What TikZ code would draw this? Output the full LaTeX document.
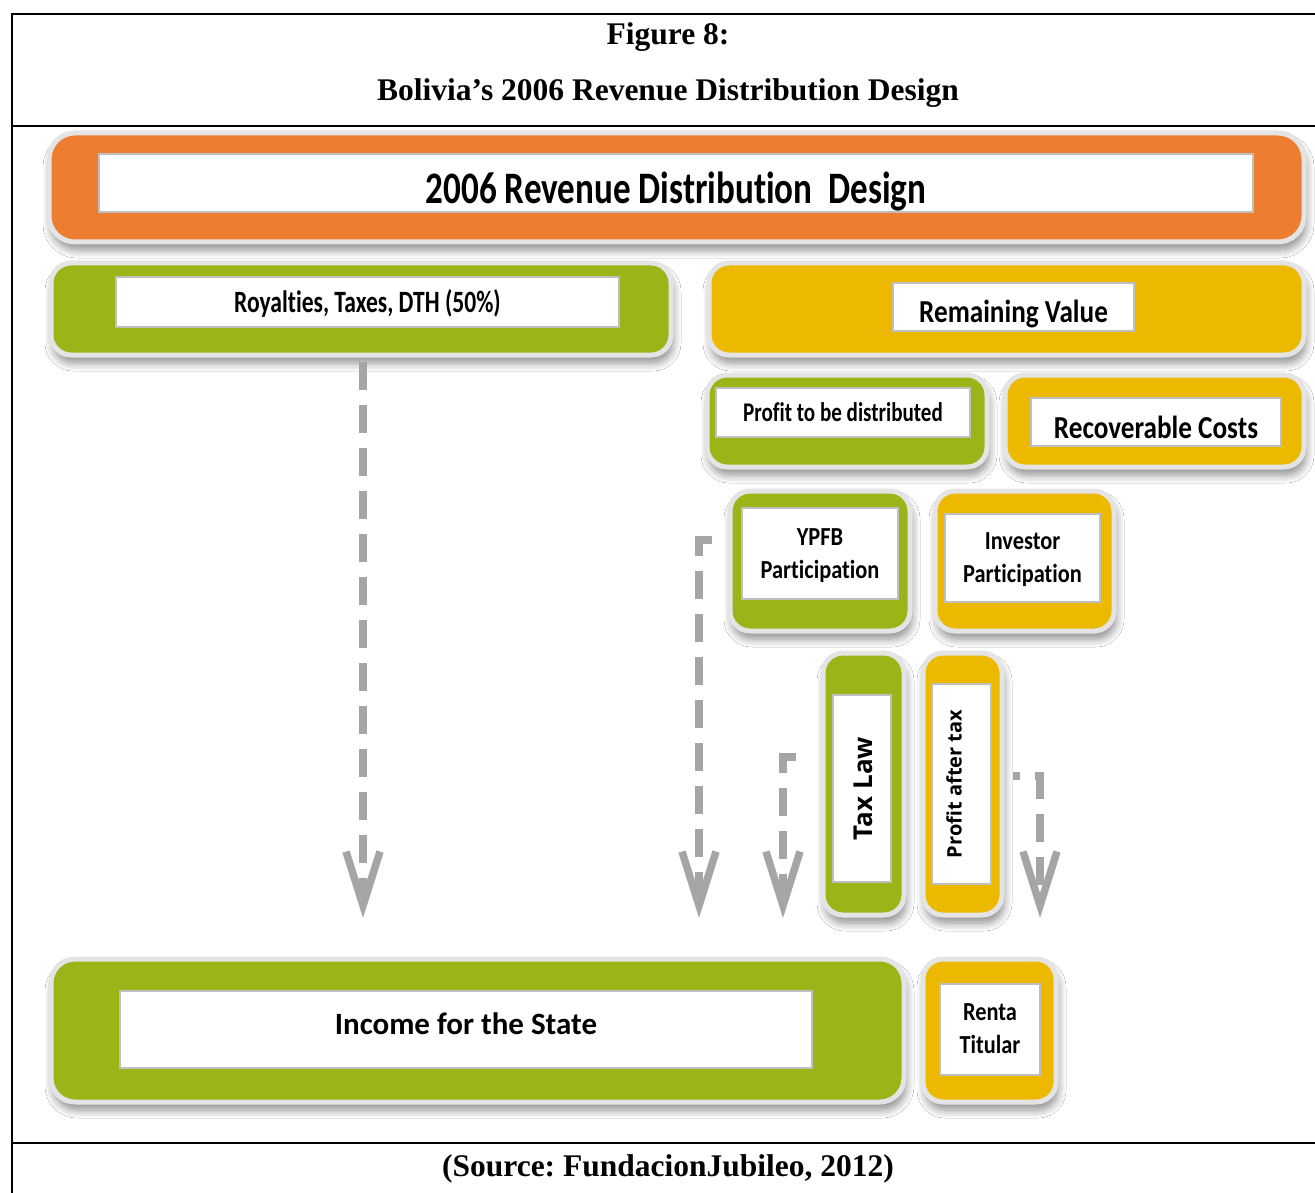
\documentclass[tikz,border=0pt]{standalone}
\usepackage{fontspec}
\usepackage{graphicx}
\setmainfont{Carlito}[RawFeature=-liga]
\newfontfamily\serifbold{Liberation Serif}
\newfontfamily\osans{Open Sans}
\usetikzlibrary{arrows.meta,shadows.blur}
\definecolor{corange}{HTML}{ED7D31}
\definecolor{cgreen}{HTML}{9BB418}
\definecolor{cyellow}{HTML}{EDB900}
\definecolor{carrow}{HTML}{A5A5A5}
\definecolor{cring}{HTML}{E4E4E4}
\frenchspacing
\newcommand\sqtxt[5][0pt]{\raisebox{-#1}[0pt][0pt]{\scalebox{#2}[1]{\fontsize{#3}{#4}\selectfont\bfseries\begin{tabular}{@{}c@{}}#5\end{tabular}}}}
\tikzset{
  outerbox/.style={rounded corners=#1, draw=cring, line width=5pt, inner sep=0pt,
    blur shadow={shadow xshift=2pt, shadow yshift=-8pt, shadow blur radius=8pt, shadow opacity=45, shadow blur steps=8}},
  outerbox/.default=20pt,
  innerbox/.style={fill=white, draw=black!25, line width=1.5pt, inner sep=0pt, text=black, align=center},
  flow/.style={draw=carrow, line width=7.5pt, dash pattern=on 28pt off 15pt,
    -{Straight Barb[length=54pt, width=34pt, line width=7.5pt]}},
  captiontext/.style={inner sep=0pt, font=\serifbold\bfseries\fontsize{31.5}{36}\selectfont}
}
\begin{document}
\begin{tikzpicture}[x=1pt, y=-1pt]
\useasboundingbox[fill=white] (0,0) rectangle (1315,1193);
% frame
\draw[line width=2pt] (1315,14) -- (12,14) -- (12,1193);
\draw[line width=2pt] (12,126) -- (1315,126);
\draw[line width=2pt] (12,1143) -- (1315,1143);
\node[captiontext] (fig) at (668,37) {Figure 8:};
\node[captiontext] (ttl) at (668,93) {Bolivia’s 2006 Revenue Distribution Design};
\node[captiontext] (src) at (668,1169) {(Source: FundacionJubileo, 2012)};

% top orange
\node[outerbox=26pt, fill=corange, minimum width=1255pt, minimum height=109pt] (top) at (676.5,187.5) {};
\node[innerbox, minimum width=1154pt, minimum height=58pt] (topin) at (676,183)
  {\sqtxt[17pt]{0.78}{45}{50}{2006 Revenue Distribution\ \ Design}};

% row 2
\node[outerbox, fill=cgreen, minimum width=620pt, minimum height=92pt] (roy) at (361,309) {};
\node[innerbox, minimum width=503pt, minimum height=50pt] (royin) at (367.5,302)
  {\sqtxt[10pt]{0.76}{31}{36}{Royalties, Taxes, DTH (50\%)}};
\node[outerbox, fill=cyellow, minimum width=595pt, minimum height=92pt] (rem) at (1006.5,309) {};
\node[innerbox, minimum width=241pt, minimum height=48pt] (remin) at (1013.5,307)
  {\sqtxt[15pt]{0.85}{32}{36}{Remaining Value}};

% row 3
\node[outerbox, fill=cgreen, minimum width=280pt, minimum height=92pt] (prof) at (847,421) {};
\node[innerbox, minimum width=254pt, minimum height=49pt] (profin) at (843,412.5)
  {\sqtxt[9pt]{0.78}{27}{32}{Profit to be distributed}};
\node[outerbox, fill=cyellow, minimum width=299pt, minimum height=92pt] (rec) at (1154.5,421) {};
\node[innerbox, minimum width=250pt, minimum height=48pt] (recin) at (1156,422)
  {\sqtxt[16pt]{0.85}{32}{36}{Recoverable Costs}};

% row 4
\node[outerbox, fill=cgreen, minimum width=180pt, minimum height=140pt] (ypfb) at (820,561) {};
\node[innerbox, minimum width=156pt, minimum height=91pt] (ypfbin) at (820,553.5)
  {\sqtxt[8pt]{0.86}{26}{33}{YPFB\\Participation}};
\node[outerbox, fill=cyellow, minimum width=179pt, minimum height=140pt] (inv) at (1024.5,561) {};
\node[innerbox, minimum width=155pt, minimum height=88pt] (invin) at (1022.5,558)
  {\sqtxt[8pt]{0.86}{26}{33}{Investor\\Participation}};

% row 5 (vertical)
\node[outerbox, fill=cgreen, minimum width=81pt, minimum height=262pt] (tax) at (863.5,784) {};
\node[innerbox, minimum width=58pt, minimum height=187pt] (taxin) at (862,788.5)
  {\rotatebox{90}{\raisebox{-10pt}[0pt][0pt]{\osans\bfseries\fontsize{26}{30}\selectfont Tax Law}}};
\node[outerbox, fill=cyellow, minimum width=79pt, minimum height=262pt] (pat) at (962.5,784) {};
\node[innerbox, minimum width=59pt, minimum height=200pt] (patin) at (961.5,784)
  {\rotatebox{90}{\raisebox{0pt}[0pt][0pt]{\osans\bfseries\fontsize{20}{24}\selectfont Profit after tax}}};

% bottom row
\node[outerbox=24pt, fill=cgreen, minimum width=853pt, minimum height=143pt] (inc) at (477.5,1030.5) {};
\node[innerbox, minimum width=692pt, minimum height=77pt] (incin) at (466,1029.5)
  {\sqtxt[4pt]{1.0}{31}{36}{Income for the State}};
\node[outerbox, fill=cyellow, minimum width=133pt, minimum height=143pt] (ren) at (989.5,1030.5) {};
\node[innerbox, minimum width=100pt, minimum height=91pt] (renin) at (990,1029.5)
  {\sqtxt[7pt]{0.86}{26}{33}{Renta\\Titular}};

% connectors
\coordinate (e1) at (363,918);
\coordinate (e2) at (699,918);
\coordinate (e3) at (783,918);
\coordinate (e4) at (1040,918);
\draw[flow] ([xshift=2pt,yshift=-4pt]roy.south) -- (e1);
\draw[flow] ([xshift=-16pt,yshift=21pt]ypfb.west) -| (e2);
\draw[flow] ([xshift=-25pt,yshift=27pt]tax.west) -| (e3);
\draw[flow, dash phase=21pt] ([xshift=8pt,yshift=8pt]pat.east) -| (e4);
\end{tikzpicture}
\end{document}
